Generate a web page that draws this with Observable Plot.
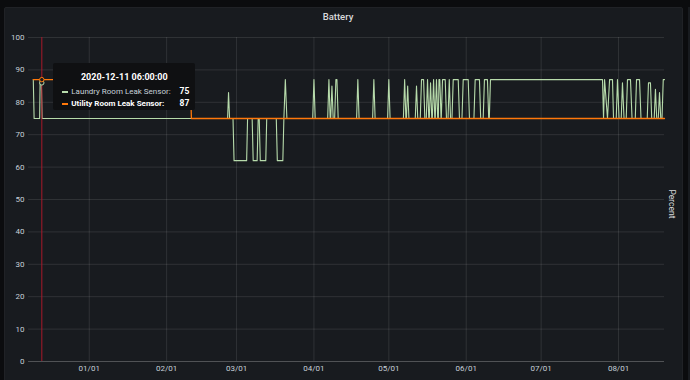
<!DOCTYPE html>
<html>
<head>
<meta charset="utf-8">
<script src="https://cdn.jsdelivr.net/npm/d3@7"></script>
<script src="https://cdn.jsdelivr.net/npm/@observablehq/plot@0.6"></script>
<style>
  html, body { margin: 0; padding: 0; background: #0b0c0e; }
  #wrap { position: relative; width: 690px; height: 380px; overflow: hidden; background: #0b0c0e; font-family: Roboto, "Noto Sans", sans-serif; }
  #panel { position: absolute; left: 4px; top: 7px; width: 679px; height: 380px; background: #181b1f; border: 1px solid #202226; border-radius: 2px; box-sizing: border-box; }
  #edge { position: absolute; left: 688px; top: 7px; width: 4px; height: 380px; background: #181b1f; }
  #title { position: absolute; left: 238px; width: 200px; top: 11px; text-align: center; font-size: 9.5px; font-weight: 500; color: #d8d9da; line-height: 12px; }
  #ylabel { position: absolute; left: 672px; top: 204px; font-size: 8.5px; color: #d8d9da; transform: translate(-50%, -50%) rotate(90deg); white-space: nowrap; }
  #chart { position: absolute; left: 0; top: 0; }
  #tip { position: absolute; width: 142px; height: 47px; background: #0f1012; border-radius: 2px; color: #c7d0d9; font-size: 8px; }
  #tip .hd { position: absolute; left: 0; right: 0; top: 8px; text-align: center; font-weight: 700; color: #fff; font-size: 9px; line-height: 12px; }
  #tip .row { position: absolute; left: 9px; right: 6px; height: 11px; line-height: 11px; display: flex; align-items: center; }
  #tip .dash { width: 6px; height: 2px; margin-right: 3px; }
  #tip .lab { flex: 1; white-space: nowrap; }
  #tip .val { font-weight: 700; color: #fff; font-size: 8.5px; }
</style>
</head>
<body>
<div id="wrap">
  <div id="panel"></div>
  <div id="edge"></div>
  <div id="title"></div>
  <div id="chart"></div>
  <div id="ylabel"></div>
</div>
<script>
// ---- data ----
const titleText = "Battery";
const yLabelText = "Percent";
const seriesNames = ["Laundry Room Leak Sensor", "Utility Room Leak Sensor"];
const seriesColors = ["#b7dbab", "#ff780a"];

const yTicks = [0, 10, 20, 30, 40, 50, 60, 70, 80, 90, 100];
const xTicks = ["2021-01-01", "2021-02-01", "2021-03-01", "2021-04-01", "2021-05-01", "2021-06-01", "2021-07-01", "2021-08-01"];
const xDomain = ["2020-12-07T16:00", "2021-08-19T10:00"];

const laundry = [
  ["2020-12-09T14:00", 87], ["2020-12-09T22:00", 75], ["2020-12-12T03:00", 75], ["2020-12-12T08:00", 87],
  ["2020-12-12T19:00", 87], ["2020-12-13T03:00", 75],
  ["2021-02-25T10:00", 75], ["2021-02-25T19:00", 83], ["2021-02-26T05:00", 75],
  ["2021-02-27T14:00", 75], ["2021-02-28T00:00", 62], ["2021-03-05T01:00", 62], ["2021-03-05T10:00", 75],
  ["2021-03-07T06:00", 75], ["2021-03-07T16:00", 62], ["2021-03-09T06:00", 62], ["2021-03-09T16:00", 75],
  ["2021-03-10T02:00", 75], ["2021-03-10T12:00", 62], ["2021-03-12T17:00", 62], ["2021-03-13T02:00", 75],
  ["2021-03-16T22:00", 75], ["2021-03-17T08:00", 62], ["2021-03-19T13:00", 62], ["2021-03-19T23:00", 75],
  ["2021-03-20T13:00", 87], ["2021-03-21T04:00", 75],
  ["2021-03-31T12:00", 75], ["2021-04-01T00:00", 87], ["2021-04-01T12:00", 75],
  ["2021-04-06T12:00", 75], ["2021-04-07T00:00", 87], ["2021-04-07T12:00", 75],
  ["2021-04-07T17:00", 75], ["2021-04-08T05:00", 85], ["2021-04-08T17:00", 75],
  ["2021-04-09T07:00", 75], ["2021-04-09T19:00", 87], ["2021-04-10T05:00", 87], ["2021-04-10T17:00", 75],
  ["2021-04-18T02:00", 75], ["2021-04-18T14:00", 87], ["2021-04-19T02:00", 75],
  ["2021-04-24T12:00", 75], ["2021-04-25T00:00", 87], ["2021-04-25T12:00", 75],
  ["2021-04-30T12:00", 75], ["2021-05-01T00:00", 87], ["2021-05-01T12:00", 75],
  ["2021-05-06T20:00", 75], ["2021-05-07T08:00", 87], ["2021-05-07T20:00", 75],
  ["2021-05-08T01:00", 75], ["2021-05-08T13:00", 85], ["2021-05-09T01:00", 75],
  ["2021-05-11T14:00", 75], ["2021-05-12T02:00", 85], ["2021-05-12T14:00", 75],
  ["2021-05-13T14:00", 75], ["2021-05-14T02:00", 87], ["2021-05-14T22:00", 87], ["2021-05-15T10:00", 75],
  ["2021-05-16T00:00", 75], ["2021-05-16T12:00", 87], ["2021-05-17T00:00", 75],
  ["2021-05-17T05:00", 75], ["2021-05-17T17:00", 86], ["2021-05-18T05:00", 75],
  ["2021-05-18T10:00", 75], ["2021-05-18T22:00", 87], ["2021-05-19T10:00", 75],
  ["2021-05-19T14:00", 75], ["2021-05-20T02:00", 87], ["2021-05-20T14:00", 75],
  ["2021-05-20T20:00", 75], ["2021-05-21T02:00", 87], ["2021-05-21T10:00", 87], ["2021-05-21T22:00", 75],
  ["2021-05-22T00:00", 75], ["2021-05-22T12:00", 87], ["2021-05-23T14:00", 87], ["2021-05-24T02:00", 75],
  ["2021-05-24T17:00", 75], ["2021-05-25T05:00", 87], ["2021-05-25T17:00", 75],
  ["2021-05-26T07:00", 75], ["2021-05-26T19:00", 87], ["2021-05-28T19:00", 87], ["2021-05-29T07:00", 75],
  ["2021-05-30T07:00", 75], ["2021-05-30T19:00", 87], ["2021-06-01T19:00", 87], ["2021-06-02T07:00", 75],
  ["2021-06-04T02:00", 75], ["2021-06-04T14:00", 87], ["2021-06-06T07:00", 87], ["2021-06-06T19:00", 75],
  ["2021-06-07T19:00", 75], ["2021-06-08T07:00", 87], ["2021-06-09T12:00", 87], ["2021-06-10T00:00", 75],
  ["2021-06-10T06:00", 75], ["2021-06-10T17:00", 87], ["2021-07-25T14:00", 87], ["2021-07-26T00:00", 75],
  ["2021-07-26T10:00", 87], ["2021-07-27T14:00", 75], ["2021-07-28T10:00", 87], ["2021-07-29T14:00", 87],
  ["2021-07-30T00:00", 75], ["2021-07-31T02:00", 75], ["2021-07-31T14:00", 87], ["2021-08-01T05:00", 75],
  ["2021-08-02T02:00", 75], ["2021-08-02T14:00", 86], ["2021-08-03T05:00", 75],
  ["2021-08-04T02:00", 75], ["2021-08-04T14:00", 87], ["2021-08-05T19:00", 87], ["2021-08-06T10:00", 75],
  ["2021-08-07T17:00", 75], ["2021-08-08T05:00", 87], ["2021-08-09T10:00", 87], ["2021-08-10T00:00", 75],
  ["2021-08-12T12:00", 75], ["2021-08-13T00:00", 86], ["2021-08-13T19:00", 86], ["2021-08-14T07:00", 75],
  ["2021-08-15T07:00", 75], ["2021-08-15T19:00", 84], ["2021-08-16T07:00", 75],
  ["2021-08-16T22:00", 75], ["2021-08-17T10:00", 83], ["2021-08-17T22:00", 75],
  ["2021-08-18T10:00", 75], ["2021-08-18T22:00", 87], ["2021-08-19T10:00", 87]
];

const utility = [
  ["2020-12-09T14:00", 87], ["2021-02-10T12:00", 87], ["2021-02-10T22:00", 75], ["2021-08-19T10:00", 75]
];

// hover state shown in the reference
const hoverTime = "2020-12-13T00:00";
const hoverLabel = "2020-12-11 06:00:00";
const hoverValues = [75, 87];
const hoverMarkers = [86, 87];

// ---- build ----
const parse = d3.utcParse("%Y-%m-%dT%H:%M");
const parseDay = d3.utcParse("%Y-%m-%d");
const toRows = (arr) => arr.map(([t, v]) => ({t: parse(t), v}));
const tickDates = xTicks.map(parseDay);

const plot = Plot.plot({
  width: 690,
  height: 380,
  marginTop: 37,
  marginBottom: 19,
  marginLeft: 28,
  marginRight: 26,
  style: {background: "transparent", color: "#c7d0d9", fontFamily: "Roboto, 'Noto Sans', sans-serif", fontSize: "8px", overflow: "visible"},
  x: {type: "utc", domain: xDomain.map(parse), label: null},
  y: {domain: [0, 100], label: null},
  marks: [
    Plot.gridY(yTicks, {stroke: "#ffffff", strokeOpacity: 0.1}),
    Plot.gridX(tickDates, {stroke: "#ffffff", strokeOpacity: 0.1}),
    Plot.axisY(yTicks, {tickSize: 0, tickPadding: 4, label: null}),
    Plot.axisX(tickDates, {tickSize: 0, tickPadding: 4, label: null, tickFormat: d3.utcFormat("%m/%d")}),
    Plot.ruleY([0], {stroke: "#ffffff", strokeOpacity: 0.16}),
    Plot.line(toRows(laundry), {x: "t", y: "v", stroke: seriesColors[0], strokeWidth: 1.1}),
    Plot.line(toRows(utility), {x: "t", y: "v", stroke: seriesColors[1], strokeWidth: 1.3}),
    Plot.ruleX([parse(hoverTime)], {stroke: "#a8192a", strokeWidth: 1}),
    Plot.dot(hoverMarkers.map((v, i) => ({t: parse(hoverTime), v, c: seriesColors[i]})), {x: "t", y: "v", stroke: "c", fill: "#181b1f", r: 2.2, strokeWidth: 1})
  ]
});
document.getElementById("chart").appendChild(plot);
document.getElementById("title").textContent = titleText;
document.getElementById("ylabel").textContent = yLabelText;

// tooltip anchored with the plot scales
const xs = plot.scale("x"), ys = plot.scale("y");
const tip = document.createElement("div");
tip.id = "tip";
tip.style.left = (xs.apply(parse(hoverTime)) + 12) + "px";
tip.style.top = (ys.apply(hoverValues[1]) - 16) + "px";
const hd = document.createElement("div");
hd.className = "hd";
hd.textContent = hoverLabel;
tip.appendChild(hd);
seriesNames.forEach((name, i) => {
  const row = document.createElement("div");
  row.className = "row";
  row.style.top = (i === 0 ? 23 : 35) + "px";
  const dash = document.createElement("span");
  dash.className = "dash";
  dash.style.background = seriesColors[i];
  const lab = document.createElement("span");
  lab.className = "lab";
  lab.textContent = name + ":";
  if (i === 1) { lab.style.fontWeight = "700"; lab.style.color = "#fff"; }
  const val = document.createElement("span");
  val.className = "val";
  val.textContent = hoverValues[i];
  row.append(dash, lab, val);
  tip.appendChild(row);
});
document.getElementById("wrap").appendChild(tip);
</script>
</body>
</html>
